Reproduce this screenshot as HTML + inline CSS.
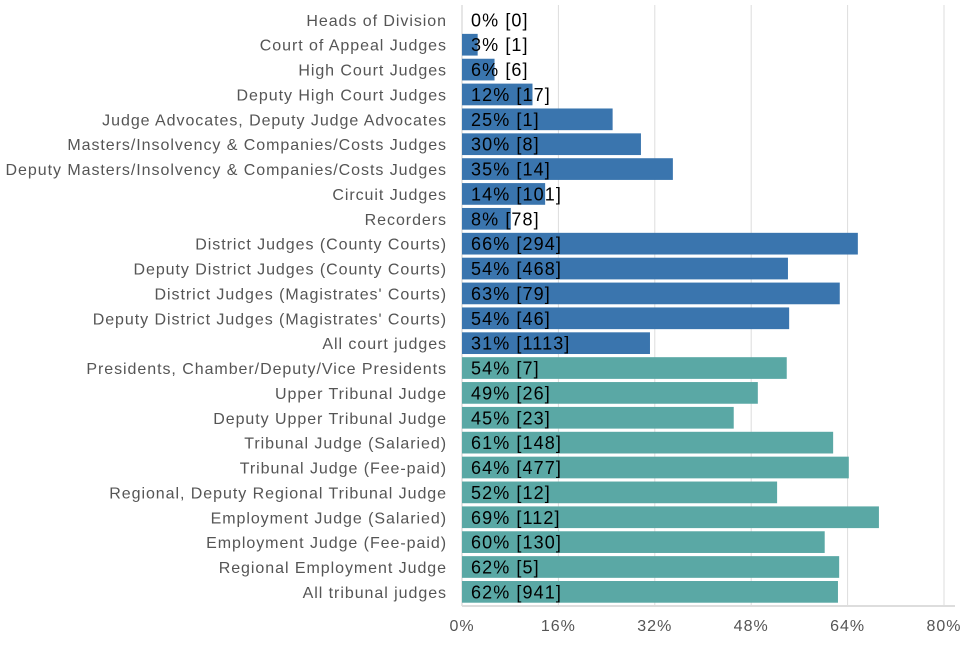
<!DOCTYPE html>
<html><head><meta charset="utf-8"><style>
body{margin:0;background:#fff;font-family:"Liberation Sans",sans-serif;}
svg text{font-family:"Liberation Sans",sans-serif;}
</style></head><body>
<svg id="chart" width="960" height="640" xmlns="http://www.w3.org/2000/svg"></svg>
<script>
const categories=["Heads of Division","Court of Appeal Judges","High Court Judges","Deputy High Court Judges","Judge Advocates, Deputy Judge Advocates","Masters/Insolvency & Companies/Costs Judges","Deputy Masters/Insolvency & Companies/Costs Judges","Circuit Judges","Recorders","District Judges (County Courts)","Deputy District Judges (County Courts)","District Judges (Magistrates' Courts)","Deputy District Judges (Magistrates' Courts)","All court judges","Presidents, Chamber/Deputy/Vice Presidents","Upper Tribunal Judge","Deputy Upper Tribunal Judge","Tribunal Judge (Salaried)","Tribunal Judge (Fee-paid)","Regional, Deputy Regional Tribunal Judge","Employment Judge (Salaried)","Employment Judge (Fee-paid)","Regional Employment Judge","All tribunal judges"];
const values=[0,2.6,5.4,11.7,25.0,29.7,35.0,13.8,8.1,65.7,54.1,62.7,54.3,31.2,53.9,49.1,45.1,61.6,64.2,52.3,69.2,60.2,62.6,62.4];
const pctLabels=["0%","3%","6%","12%","25%","30%","35%","14%","8%","66%","54%","63%","54%","31%","54%","49%","45%","61%","64%","52%","69%","60%","62%","62%"];
const counts=["0","1","6","17","1","8","14","101","78","294","468","79","46","1113","7","26","23","148","477","12","112","130","5","941"];
const groups=["court","court","court","court","court","court","court","court","court","court","court","court","court","court","tribunal","tribunal","tribunal","tribunal","tribunal","tribunal","tribunal","tribunal","tribunal","tribunal"];
const ticks=[0,16,32,48,64,80];

const svg=document.getElementById('chart');
const NS='http://www.w3.org/2000/svg';
const x0=462,pxPer=6.025,top0=9,pitch=24.87,barH=21.7,axisY=606;
const xs=v=>x0+v*pxPer;
const ys=i=>top0+i*pitch;
function mk(t,a){const e=document.createElementNS(NS,t);for(const k in a)e.setAttribute(k,a[k]);svg.appendChild(e);return e;}

ticks.forEach((t,i)=>{
  const g=mk('line',{x1:xs(t),x2:xs(t),y1:5,y2:axisY,stroke:t===0?'#cccccc':'#dddddd','stroke-width':1});
  
  
  const tl=mk('text',{x:xs(t),y:631,'text-anchor':'middle','font-size':16,fill:'#555','letter-spacing':'1px'});
  tl.textContent=t+'%';
  
  
});
const ax=mk('line',{x1:x0,x2:955,y1:axisY,y2:axisY,stroke:'#dddddd','stroke-width':2});



categories.forEach((c,i)=>{
  const y=ys(i);
  const r=mk('rect',{x:x0,y:y,width:Math.max(0,xs(values[i])-x0),height:barH,fill:groups[i]==='court'?'#3a75ae':'#5aa8a5'});
  
  
  const l=mk('text',{x:447,y:y+barH/2+6,'text-anchor':'end','font-size':16,fill:'#555','letter-spacing':'0.95px'});
  l.textContent=c;
  
  
  const v=mk('text',{x:471,y:y+barH/2+6.5,'font-size':18,fill:'#000','letter-spacing':'1.1px'});
  v.textContent=pctLabels[i]+' ['+counts[i]+']';
  
  
});
</script>
</body></html>
